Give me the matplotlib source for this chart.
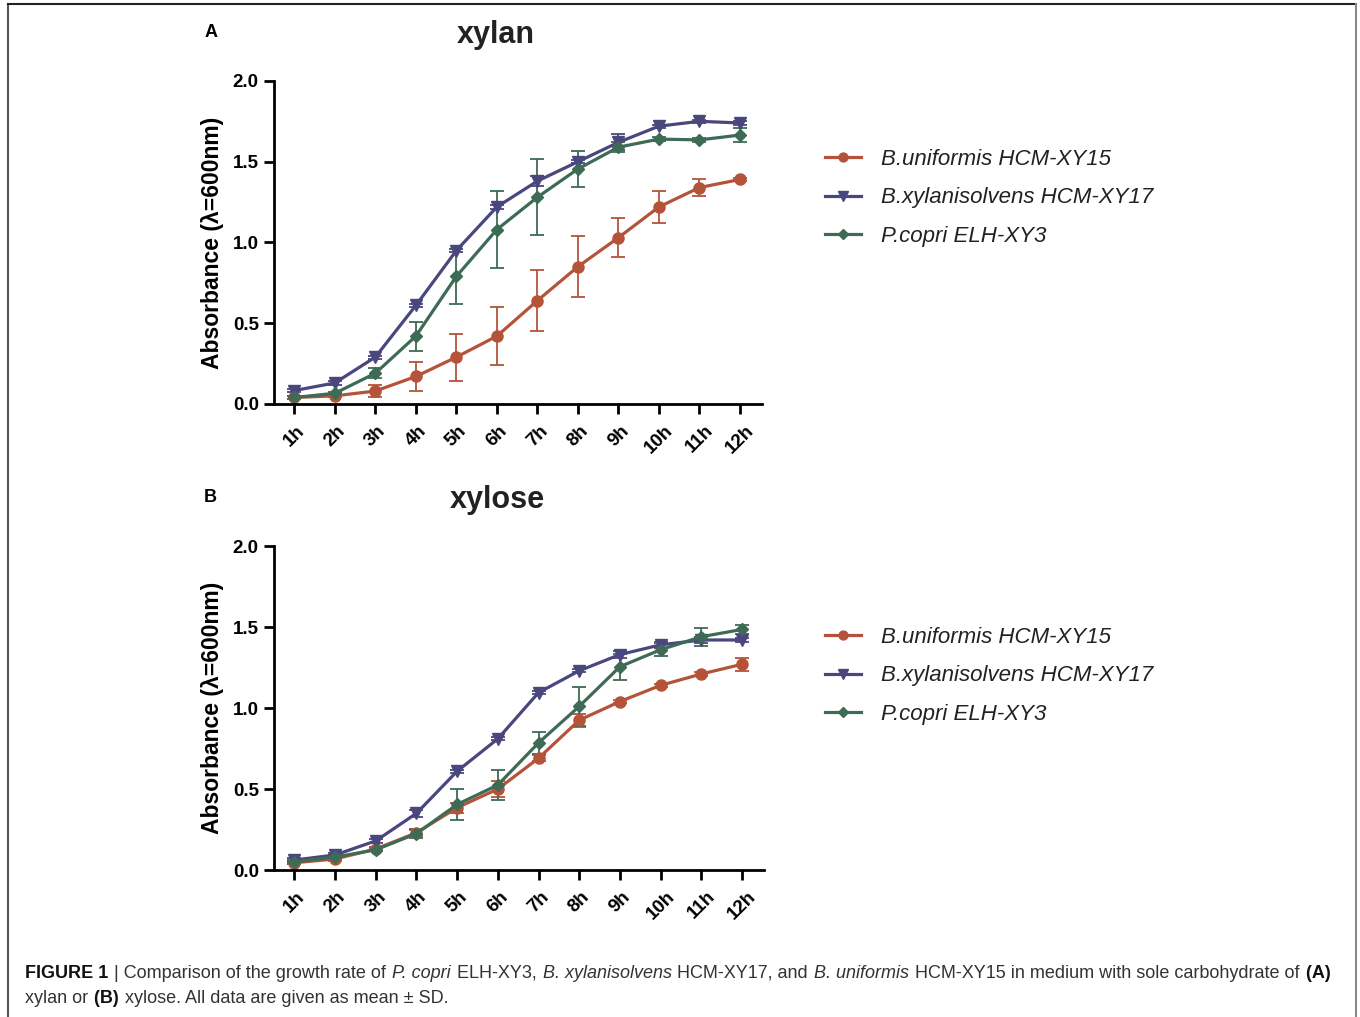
import numpy as np
import matplotlib
matplotlib.use("Agg")
import matplotlib.pyplot as plt
from matplotlib.lines import Line2D

plt.rcParams['font.family'] = ['Liberation Sans', 'DejaVu Sans']

hours = ["1h", "2h", "3h", "4h", "5h", "6h", "7h", "8h", "9h", "10h", "11h", "12h"]
series_names = ["B.uniformis HCM-XY15", "B.xylanisolvens HCM-XY17", "P.copri ELH-XY3"]

# panel A: xylan
xylan_unif = [0.04, 0.05, 0.08, 0.17, 0.29, 0.42, 0.64, 0.85, 1.03, 1.22, 1.34, 1.39]
xylan_unif_sd = [0.01, 0.01, 0.04, 0.09, 0.145, 0.18, 0.19, 0.19, 0.12, 0.10, 0.055, 0.01]
xylan_xyl = [0.083, 0.13, 0.29, 0.61, 0.95, 1.22, 1.38, 1.50, 1.62, 1.72, 1.75, 1.74]
xylan_xyl_sd = [0.01, 0.01, 0.01, 0.01, 0.01, 0.01, 0.03, 0.01, 0.05, 0.01, 0.01, 0.01]
xylan_cop = [0.04, 0.066, 0.19, 0.42, 0.79, 1.08, 1.28, 1.455, 1.59, 1.64, 1.635, 1.665]
xylan_cop_sd = [0.01, 0.01, 0.03, 0.09, 0.17, 0.24, 0.235, 0.11, 0.03, 0.01, 0.01, 0.045]

# panel B: xylose
xylose_unif = [0.045, 0.068, 0.13, 0.23, 0.385, 0.50, 0.69, 0.925, 1.04, 1.14, 1.21, 1.27]
xylose_unif_sd = [0.01, 0.01, 0.01, 0.02, 0.03, 0.05, 0.02, 0.04, 0.01, 0.01, 0.01, 0.04]
xylose_xyl = [0.062, 0.093, 0.18, 0.35, 0.61, 0.81, 1.095, 1.23, 1.33, 1.39, 1.42, 1.42]
xylose_xyl_sd = [0.01, 0.01, 0.01, 0.02, 0.01, 0.01, 0.01, 0.01, 0.02, 0.02, 0.02, 0.01]
xylose_cop = [0.05, 0.08, 0.125, 0.225, 0.405, 0.525, 0.785, 1.01, 1.255, 1.36, 1.44, 1.485]
xylose_cop_sd = [0.01, 0.01, 0.01, 0.03, 0.095, 0.095, 0.07, 0.12, 0.08, 0.04, 0.055, 0.03]

colors = ["#B5533A", "#4A477E", "#3E6B55"]
markers = ["o", "v", "D"]
msizes = [8, 8.5, 6.5]

fig = plt.figure(figsize=(13.6, 10.17), dpi=100)
x = np.arange(1, 13)


def panel(rect, title, letter, data):
    ax = fig.add_axes(rect)
    for (vals, sd), c, m, ms in zip(data, colors, markers, msizes):
        ax.errorbar(x, vals, yerr=sd, color=c, marker=m, markersize=ms, lw=2.3,
                    elinewidth=1.3, capsize=5, capthick=1.3)
    ax.set_xlim(0.5, 12.55)
    ax.set_ylim(0, 2.0)
    ax.set_yticks([0, 0.5, 1.0, 1.5, 2.0])
    ax.set_yticklabels(["0.0", "0.5", "1.0", "1.5", "2.0"], fontweight="bold", fontsize=13.5)
    ax.set_xticks(x)
    ax.set_xticklabels(hours, rotation=45, fontweight="bold", fontsize=13.5, ha="center")
    ax.spines["top"].set_visible(False)
    ax.spines["right"].set_visible(False)
    for s in ["left", "bottom"]:
        ax.spines[s].set_linewidth(2.0)
    ax.tick_params(width=2.0, length=7, pad=4)
    ax.tick_params(axis="x", pad=6)
    ax.set_ylabel("Absorbance (\u03bb=600nm)", fontweight="bold", fontsize=16.5, labelpad=6)
    ax.text(0.455, 1.142, title, transform=ax.transAxes, ha="center", va="center",
            fontsize=22, fontweight="bold", color="#222222")
    ax.text(-0.13, 1.149, letter, transform=ax.transAxes, ha="center", va="center",
            fontsize=13, fontweight="bold")
    return ax


axA = panel([0.2015, 0.6028, 0.359, 0.3176], "xylan", "A",
            [(xylan_unif, xylan_unif_sd), (xylan_xyl, xylan_xyl_sd), (xylan_cop, xylan_cop_sd)])
axB = panel([0.2015, 0.1445, 0.3605, 0.3186], "xylose", "B",
            [(xylose_unif, xylose_unif_sd), (xylose_xyl, xylose_xyl_sd), (xylose_cop, xylose_cop_sd)])

handles = [Line2D([], [], color=c, marker=m, markersize=ms * 0.8, lw=2.3)
           for c, m, ms in zip(colors, markers, msizes)]
for ax, ytop in [(axA, 0.873), (axB, 0.403)]:
    fig.legend(handles, series_names, loc="upper left", bbox_to_anchor=(0.592, ytop),
               frameon=False, prop={"style": "italic", "size": 16}, handlelength=1.6,
               labelspacing=0.78, handletextpad=0.9, labelcolor="#222222")

# frame around the figure
for xs, ys, c in [([8, 8], [0, 1013], "#555555"), ([8, 1356], [1013, 1013], "#222222"),
                  ([1356, 1356], [0, 1013], "#888888")]:
    fig.add_artist(Line2D(np.array(xs) / 1360, np.array(ys) / 1017, color=c, lw=1.5))

# caption with mixed styles
renderer = fig.canvas.get_renderer()
cap_size = 13.0


def run(segments, x0, y0):
    xp = x0
    for txt, style in segments:
        kw = {"fontsize": cap_size, "color": "#333333"}
        if style == "b":
            kw["fontweight"] = "bold"
            kw["color"] = "#111111"
        elif style == "i":
            kw["style"] = "italic"
        t = fig.text(xp / 1360, y0, txt, va="baseline", ha="left", **kw)
        bb = t.get_window_extent(renderer)
        xp = bb.x1 + 1


line1 = [("FIGURE 1", "b"), (" | Comparison of the growth rate of", ""), (" P. copri", "i"),
         (" ELH-XY3,", ""), (" B. xylanisolvens", "i"), (" HCM-XY17, and", ""),
         (" B. uniformis", "i"), (" HCM-XY15 in medium with sole carbohydrate of", ""),
         (" (A)", "b")]
line2 = [("xylan or", ""), (" (B)", "b"), (" xylose. All data are given as mean \u00b1 SD.", "")]
run(line1, 25, 1 - 978 / 1017)
run(line2, 25, 1 - 1003 / 1017)

fig.savefig("out.png", dpi=100)
